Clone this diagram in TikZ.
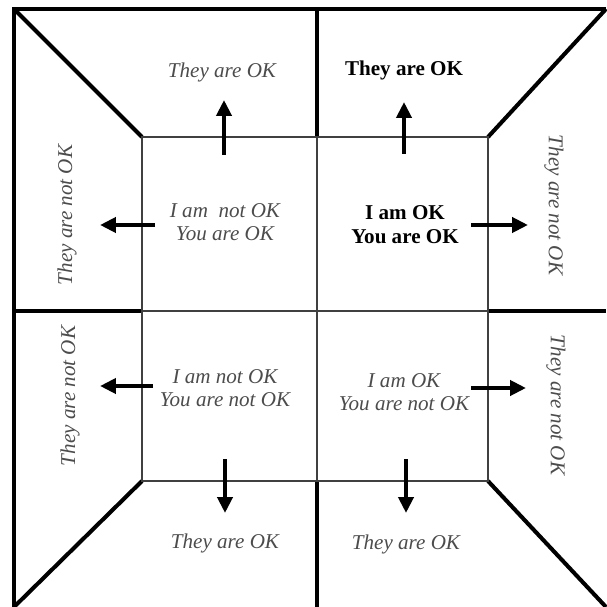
\documentclass[tikz,border=0pt]{standalone}
\usepackage{fontspec}
\setmainfont{Liberation Serif}
\usetikzlibrary{arrows.meta}

\begin{document}
\begin{tikzpicture}[
    x=0.02cm, y=-0.02cm,
    frame/.style={line width=2.3pt},
    grid/.style={line width=0.6pt, draw=black!75},
    label/.style={font=\fontsize{12}{13}\selectfont\itshape, text=black!70, align=center},
    self/.style={font=\fontsize{12}{13.5}\selectfont\bfseries, align=center},
    arr/.style={line width=2.3pt, -{Triangle[length=3.2mm, width=3mm]}}
]
    \useasboundingbox (0,0) rectangle (606,607);

    % --- Outer frame and diagonals ---
    \draw[frame, line join=miter] (14,607) -- (14,9) -- (606,9);
    \draw[frame] (14,9) -- (142,137);
    \draw[frame] (606,9) -- (488,137);
    \draw[frame] (142,481) -- (14,607);
    \draw[frame] (488,481) -- (606,607);
    \draw[frame] (317,9) -- (317,137);
    \draw[frame] (317,481) -- (317,607);
    \draw[frame] (14,311) -- (142,311);
    \draw[frame] (488,311) -- (606,311);

    % --- Inner square ---
    \draw[grid] (142,137) rectangle (488,481);
    \draw[grid] (317,137) -- (317,481);
    \draw[grid] (142,311) -- (488,311);

    % --- Top left ---
    \node[label] (tl) at (225,222) {I am\ \ not OK\\You are OK};
    \node[label] (tlup) at (222,72) {They are OK};
    \node[label, rotate=90] (tlside) at (67,215) {They are not OK};

    % --- Top right ---
    \node[self] (tr) at (405,225) {I am OK\\You are OK};
    \node[self] (trup) at (404,70) {They are OK};
    \node[label, rotate=-90] (trside) at (554,205) {They are not OK};

    % --- Bottom left ---
    \node[label] (bl) at (225,388) {I am not OK\\You are not OK};
    \node[label] (bldown) at (225,543) {They are OK};
    \node[label, rotate=90] (blside) at (70,396) {They are not OK};

    % --- Bottom right ---
    \node[label] (br) at (404,392) {I am OK\\You are not OK};
    \node[label] (brdown) at (406,544) {They are OK};
    \node[label, rotate=-90] (brside) at (556,405) {They are not OK};

    % --- Arrows ---
    \coordinate (tlupA) at (224,155);   \coordinate (tlupB) at (224,100);
    \coordinate (tlsideA) at (155,225); \coordinate (tlsideB) at (100,225);
    \coordinate (trupA) at (404,154);   \coordinate (trupB) at (404,102);
    \coordinate (trsideA) at (471,225); \coordinate (trsideB) at (528,225);
    \coordinate (blsideA) at (153,386); \coordinate (blsideB) at (100,386);
    \coordinate (bldownA) at (225,459); \coordinate (bldownB) at (225,513);
    \coordinate (brsideA) at (471,388); \coordinate (brsideB) at (526,388);
    \coordinate (brdownA) at (406,459); \coordinate (brdownB) at (406,513);

    \draw[arr] (tlupA) -- (tlupB);
    \draw[arr] (tlsideA) -- (tlsideB);
    \draw[arr] (trupA) -- (trupB);
    \draw[arr] (trsideA) -- (trsideB);
    \draw[arr] (blsideA) -- (blsideB);
    \draw[arr] (bldownA) -- (bldownB);
    \draw[arr] (brsideA) -- (brsideB);
    \draw[arr] (brdownA) -- (brdownB);

\end{tikzpicture}
\end{document}
